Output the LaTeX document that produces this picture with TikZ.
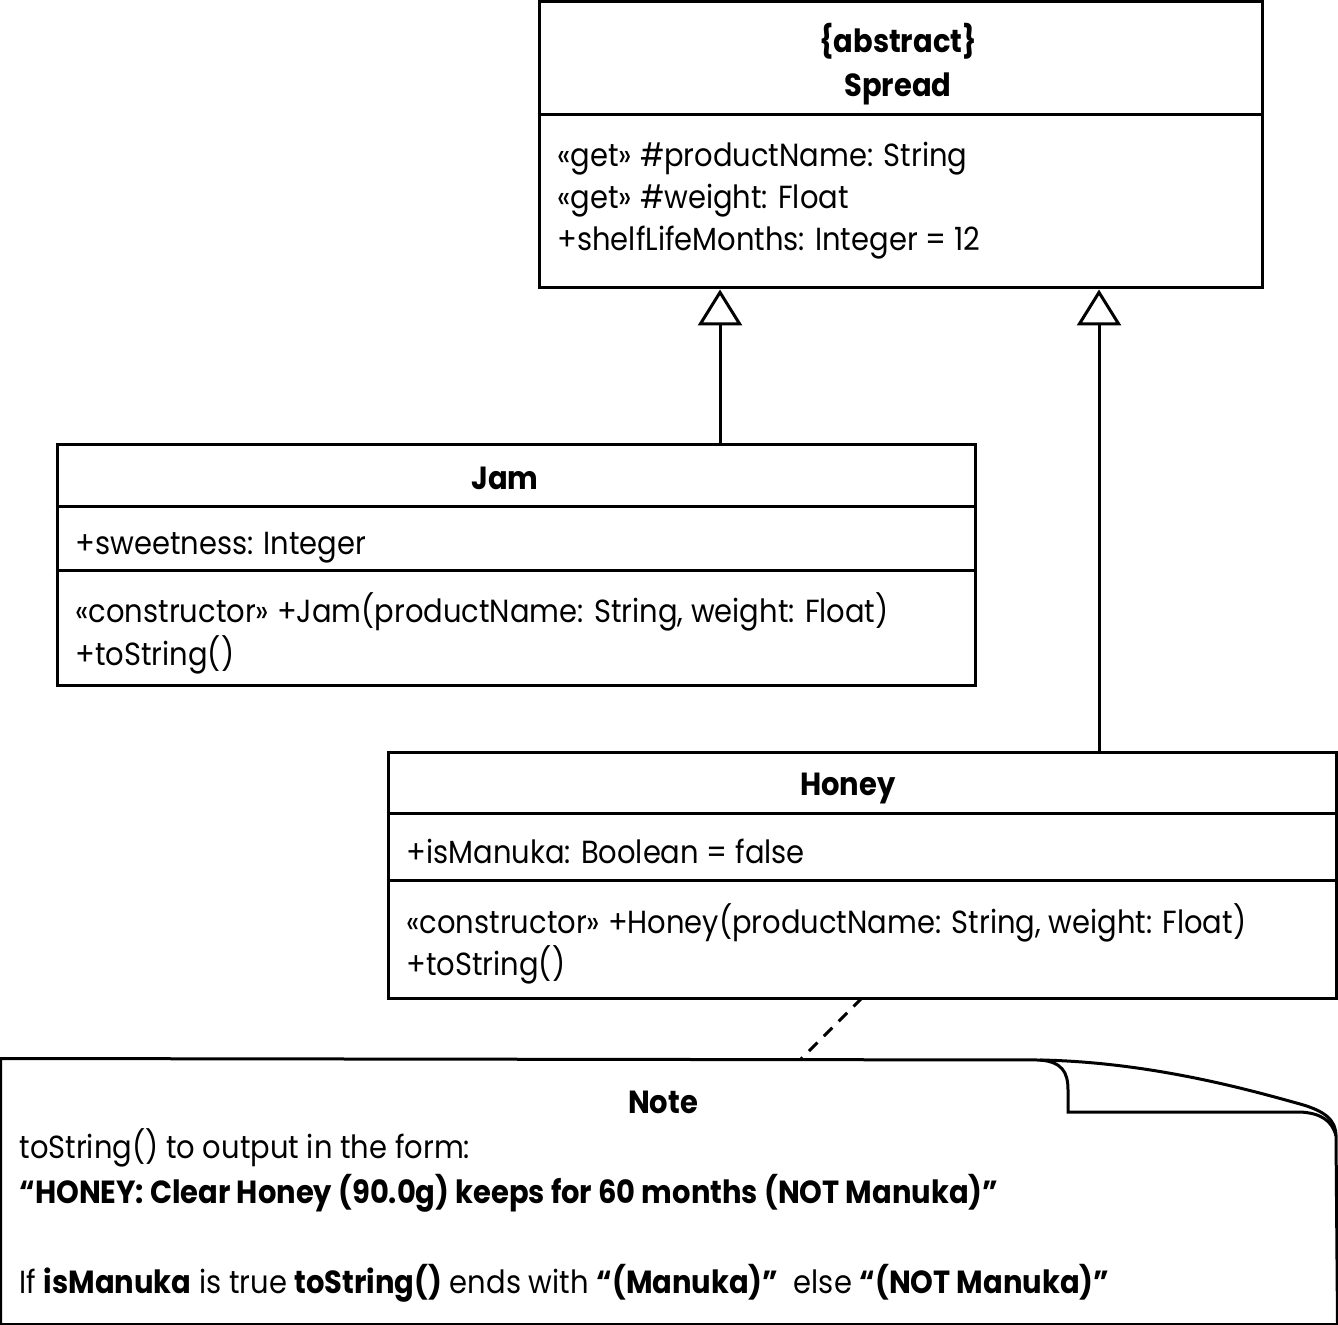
\documentclass[tikz,border=0pt]{standalone}
\usepackage{fontspec}
\setmainfont{Poppins}[FakeStretch=0.905]
\usetikzlibrary{arrows.meta}

\tikzset{
  classbox/.style={draw, line width=1.5pt, inner sep=0pt},
  member/.style={anchor=base west, inner sep=0pt},
  title/.style={anchor=base, inner sep=0pt, font=\bfseries},
  inherit/.style={line width=1.5pt, -{Triangle[open, width=22pt, length=18pt]}},
}

\begin{document}
\begin{tikzpicture}[x=0.5pt, y=-0.5pt, line width=1.5pt]
    \fontsize{16}{20}\selectfont
    \useasboundingbox (0,0) rectangle (1338,1325);

    % Spread
    \node[classbox, minimum width=361.5pt, minimum height=143pt] (spread) at (900.5,145) {};
    \draw (spread.west |- 0,115) -- (spread.east |- 0,115);
    \node[title] (spreadstereo) at (898,53) {\{abstract\}};
    \node[title] (spreadname) at (898,97) {Spread};
    \node[member] (spreadattr1) at (556,167) {«get» \#productName: String};
    \node[member] (spreadattr2) at (556,209) {«get» \#weight: Float};
    \node[member] (spreadattr3) at (556,251) {+shelfLifeMonths: Integer = 12};

    % Jam
    \node[classbox, minimum width=459pt, minimum height=120.5pt] (jam) at (516,565.5) {};
    \draw (jam.west |- 0,507) -- (jam.east |- 0,507);
    \draw (jam.west |- 0,571) -- (jam.east |- 0,571);
    \node[title] (jamname) at (505,490) {Jam};
    \node[member] (jamattr1) at (74,555) {+sweetness: Integer};
    \node[member] (jamop1) at (74,623) {«constructor» +Jam(productName: String, weight: Float)};
    \node[member] (jamop2) at (74,666) {+toString()};

    % Honey
    \node[classbox, minimum width=474pt, minimum height=123pt] (honey) at (862,875) {};
    \draw (honey.west |- 0,813) -- (honey.east |- 0,813);
    \draw (honey.west |- 0,880) -- (honey.east |- 0,880);
    \node[title] (honeyname) at (848,795) {Honey};
    \node[member] (honeyattr1) at (405,863) {+isManuka: Boolean = false};
    \node[member] (honeyop1) at (405,933) {«constructor» +Honey(productName: String, weight: Float)};
    \node[member] (honeyop2) at (405,975) {+toString()};

    % generalisation
    \coordinate (jamup) at (720,445);
    \coordinate (honeyup) at (1099,752);
    \draw[inherit] (jamup) -- (jamup |- spread.south);
    \draw[inherit] (honeyup) -- (honeyup |- spread.south);

    % Note
    \node[inner sep=0pt, minimum width=667pt, minimum height=131.5pt] (note) at (669,1191.5) {};
    \draw (note.north west) -- (1040,1060)
        .. controls (1150,1062) and (1250,1090) .. (1300,1104)
        .. controls (1325,1111) and (1336,1120) .. (1336,1136)
        -- (note.south east) -- (note.south west) -- cycle;
    \draw (1040,1060) .. controls (1062,1062) and (1068,1072) .. (1068,1090)
        -- (1068,1112) -- (1300,1112)
        .. controls (1320,1113) and (1332,1120) .. (1336,1136);
    \node[title] (notetitle) at (663,1113) {Note};
    \node[member] (noteline1) at (18,1158) {toString() to output in the form:};
    \node[member, font=\bfseries] (noteline2) at (18,1203) {“HONEY: Clear Honey (90.0g) keeps for 60 months (NOT Manuka)”};
    \node[member] (noteline3) at (18,1293) {If \textbf{isManuka} is true \textbf{toString()} ends with \textbf{“(Manuka)”}\ \ else \textbf{“(NOT Manuka)”}};

    \coordinate (dashtop) at (862,998);
    \coordinate (dashbot) at (800,1060);
    \draw[dashed, dash pattern=on 6pt off 4.5pt] (dashtop) -- (dashbot);
\end{tikzpicture}
\end{document}
